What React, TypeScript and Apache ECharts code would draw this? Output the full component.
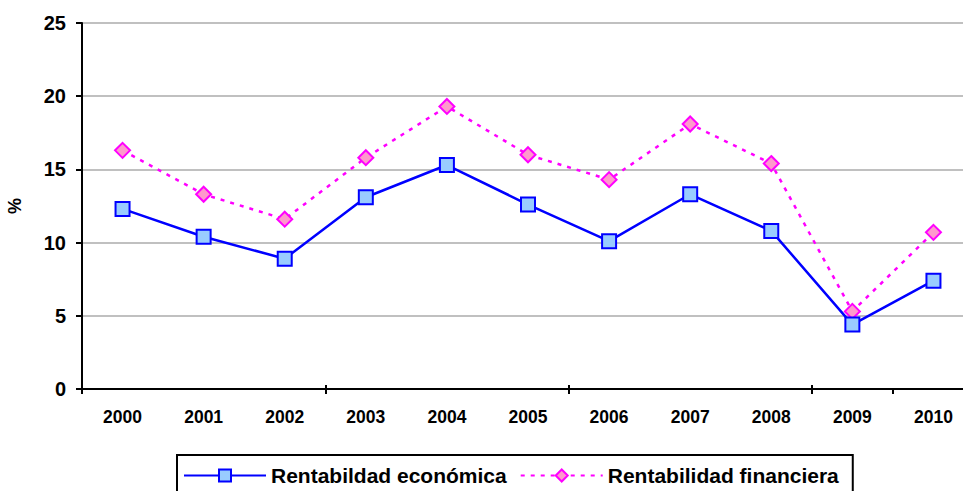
import React, { useEffect, useRef } from "react";
import * as echarts from "echarts";

const years = ["2000", "2001", "2002", "2003", "2004", "2005", "2006", "2007", "2008", "2009", "2010"];
const rentEconomica = [12.3, 10.4, 8.9, 13.1, 15.3, 12.6, 10.1, 13.3, 10.8, 4.4, 7.4];
const rentFinanciera = [16.3, 13.3, 11.6, 15.8, 19.3, 16.0, 14.3, 18.1, 15.4, 5.3, 10.7];
const seriesNames = ["Rentabildad económica", "Rentabilidad financiera"];
const yAxisName = "%";

const FONT = "'Liberation Sans', Arial, sans-serif";

export default function App() {
  const ref = useRef<HTMLDivElement>(null);
  useEffect(() => {
    if (!ref.current) return;
    const chart = echarts.init(ref.current, null, { renderer: "svg" });
    chart.setOption({
      animation: false,
      backgroundColor: "#ffffff",
      textStyle: { fontFamily: FONT },
      grid: { left: 82, top: 23, height: 366, width: 892, containLabel: false, outerBoundsMode: "none" },
      legend: {
        left: 177,
        top: 455,
        padding: [10, 14, 12, 6],
        borderColor: "#000000",
        borderWidth: 2,
        itemWidth: 82,
        itemHeight: 15,
        itemGap: 13,
        textStyle: { fontFamily: FONT, fontWeight: "bold", fontSize: 21, color: "#000" },
        data: seriesNames,
      },
      xAxis: [
        {
          type: "category",
          data: years,
          position: "bottom",
          boundaryGap: true,
          axisLine: { lineStyle: { color: "#000", width: 2 } },
          axisTick: { show: true, interval: 2, length: 5, lineStyle: { color: "#000", width: 2 } },
          axisLabel: {
            interval: 0,
            margin: 19,
            color: "#000",
            fontWeight: "bold",
            fontSize: 17.5,
            fontFamily: FONT,
          },
          splitLine: { show: false },
        },
        {
          type: "category",
          data: years,
          position: "bottom",
          boundaryGap: true,
          axisLine: { show: false },
          axisTick: { show: true, inside: true, interval: 2, length: 4, lineStyle: { color: "#000", width: 2 } },
          axisLabel: { show: false },
          splitLine: { show: false },
        },
      ],
      yAxis: {
        type: "value",
        min: 0,
        max: 25,
        interval: 5,
        name: yAxisName,
        nameLocation: "middle",
        nameGap: 58,
        nameRotate: 90,
        nameTextStyle: { fontFamily: FONT, fontWeight: "bold", fontSize: 18, color: "#000" },
        axisLine: { show: true, lineStyle: { color: "#000", width: 2 } },
        axisTick: { show: true, length: 6, lineStyle: { color: "#000", width: 2 } },
        axisLabel: {
          margin: 16,
          color: "#000",
          fontWeight: "bold",
          fontSize: 20,
          fontFamily: FONT,
        },
        splitLine: { show: true, lineStyle: { color: "#c0c0c0", width: 2 } },
      },
      series: [
        {
          name: seriesNames[0],
          type: "line",
          data: rentEconomica,
          symbol: "rect",
          symbolSize: 14,
          lineStyle: { color: "#0000ff", width: 2.5, type: "solid" },
          itemStyle: { color: "#99ccff", borderColor: "#0000ff", borderWidth: 2 },
          z: 3,
        },
        {
          name: seriesNames[1],
          type: "line",
          data: rentFinanciera,
          symbol: "diamond",
          symbolSize: 15,
          lineStyle: { color: "#ff00ff", width: 2.5, type: [4, 6] },
          itemStyle: { color: "#ff99cc", borderColor: "#ff00ff", borderWidth: 2 },
          z: 2,
        },
      ],
    });
    return () => chart.dispose();
  }, []);
  return (
    <div
      ref={ref}
      style={{ position: "fixed", left: 0, top: 0, width: 963, height: 491, overflow: "hidden" }}
    />
  );
}
